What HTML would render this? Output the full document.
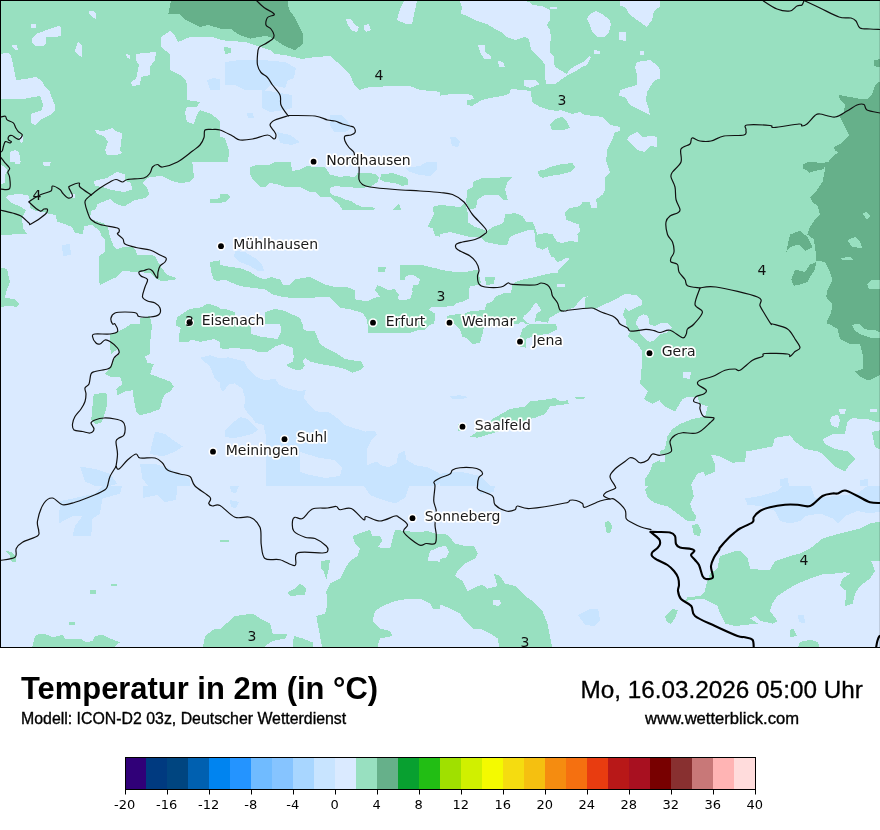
<!DOCTYPE html>
<html><head><meta charset="utf-8">
<style>
html,body{margin:0;padding:0;background:#fff;}
body{width:880px;height:830px;overflow:hidden;position:relative;font-family:"Liberation Sans",Arial,sans-serif;}
#map{position:absolute;left:0;top:0;}
.t{position:absolute;white-space:nowrap;color:#000;line-height:1;}
#title{left:21px;top:671.7px;font-size:32px;font-weight:bold;transform:scaleX(0.966);transform-origin:0 0;}
#sub{left:21px;top:711.4px;font-size:16px;-webkit-text-stroke:0.35px #000;transform:scaleX(0.992);transform-origin:0 0;}
#date{left:580.5px;top:677.8px;font-size:24.3px;-webkit-text-stroke:0.3px #000;}
#url{left:645px;top:711.2px;font-size:16px;-webkit-text-stroke:0.35px #000;transform:scaleX(1.037);transform-origin:0 0;}
#cb{position:absolute;left:0;top:750px;}
</style></head><body>
<svg id="map" width="880" height="648" viewBox="0 0 880 648" shape-rendering="crispEdges">
<defs>
<clipPath id="t00"><rect x="0" y="0" width="220" height="162"/></clipPath>
<clipPath id="t10"><rect x="220" y="0" width="220" height="162"/></clipPath>
<clipPath id="t20"><rect x="440" y="0" width="220" height="162"/></clipPath>
<clipPath id="t30"><rect x="660" y="0" width="220" height="162"/></clipPath>
<clipPath id="t01"><rect x="0" y="162" width="220" height="162"/></clipPath>
<clipPath id="t11"><rect x="220" y="162" width="220" height="162"/></clipPath>
<clipPath id="t21"><rect x="440" y="162" width="220" height="162"/></clipPath>
<clipPath id="t31"><rect x="660" y="162" width="220" height="162"/></clipPath>
<clipPath id="t02"><rect x="0" y="324" width="220" height="162"/></clipPath>
<clipPath id="t12"><rect x="220" y="324" width="220" height="162"/></clipPath>
<clipPath id="t22"><rect x="440" y="324" width="220" height="162"/></clipPath>
<clipPath id="t32"><rect x="660" y="324" width="220" height="162"/></clipPath>
<clipPath id="t03"><rect x="0" y="486" width="220" height="162"/></clipPath>
<clipPath id="t13"><rect x="220" y="486" width="220" height="162"/></clipPath>
<clipPath id="t23"><rect x="440" y="486" width="220" height="162"/></clipPath>
<clipPath id="t33"><rect x="660" y="486" width="220" height="162"/></clipPath>
</defs>
<rect width="880" height="648" fill="#daeaff"/>
<g clip-path="url(#t00)"><rect x="0" y="0" width="220" height="162" fill="#98e0c0"/>
<polygon points="171,0 168.3,14.5 179,13.5 184.7,19.3 200.2,27 208,25.1 225,29.5 225,0" fill="#66b08a"/>
<polygon points="31,24 36,24 36,28 31,28" fill="#daeaff"/>
<polygon points="32,38 36,34 44,31 52,28 59,26 61,28 61,36 55,37 46,37 46,44 43,46 36,46 32,43" fill="#daeaff"/>
<polygon points="89,11 94,11 96,14 96,19 92,17 89,14" fill="#daeaff"/>
<polygon points="12,45 17,45 18,50 15,50 12,47" fill="#daeaff"/>
<polygon points="78,41 82,46 82,57 78,55 75,51" fill="#daeaff"/>
<polygon points="-2,54 8,53 11,56 13,64 16,80 25,79 36,77 41,80 46,88 50,92 52,98 55,105 55,110 50,115 46,117 40,120 35,125 31,123 31,114 36,112 42,110 43,104 40,96 33,97 24,99 -2,99" fill="#daeaff"/>
<polygon points="136,54 143,53 156,52 155,60 150,67 150,75 141,77 140,85 132,86 131,82 136,79 139,65 136,60" fill="#daeaff"/>
<polygon points="126,54 130,55 130,59 127,58" fill="#daeaff"/>
<polygon points="161,37 170,31 175,36 178,42 190,37 212,37 222,40 222,124 219,120 211,114 200,110 197,115 194,124 187,122 185,112 187,107 197,107 200,102 187,100 187,85 186,80 180,75 170,70 170,54 161,47" fill="#daeaff"/>
<polygon points="207,80 214,78 222,80 222,90 210,90" fill="#c8e4ff"/>
<polygon points="95,130 103,131 110,129 112,127 115,131 122,133 121,145 120,150 122,153 117,155 107,155 105,150 108,142 104,136 97,134" fill="#daeaff"/>
<polygon points="10,152 15,150 19,152 21,164 10,164" fill="#daeaff"/>
<polygon points="19,137 23,135 23.5,141 21,143" fill="#daeaff"/>
</g>
<g clip-path="url(#t10)"><rect x="220" y="0" width="220" height="162" fill="#daeaff"/>
<polygon points="218,-2 442,-2 442,92 420,90 410,86 395,86 370,87 359,90 355,86 350,75 345,70 337,62 330,56 315,57 302,59 285,55 275,54 270,50 257,46 245,42 218,40" fill="#98e0c0"/>
<polygon points="218,-2 287,-2 289,9.7 294.8,17.4 302.5,32.8 302.5,44.4 294.8,50.2 285.1,46.3 273.6,38.6 265.8,35.7 250.4,38.6 238.8,34.7 231,29 218,28.5" fill="#66b08a"/>
<polygon points="404,1 417,1 412,24 406,24 397,20 400,9" fill="#daeaff"/>
<polygon points="346,19 351,19 355,25 359,27 357,32 352,31 348,25" fill="#daeaff"/>
<polygon points="364,25 369,24 371,30 366,32 364,30" fill="#daeaff"/>
<polygon points="224,47 231,48 231,53 225,54" fill="#98e0c0"/>
<polygon points="218,136 225,138 229,150 228,164 218,164" fill="#98e0c0"/>
<polygon points="225,62 240,60 262,60 285,62 296,68 294,78 288,80 285,88 270,85 265,90 245,90 235,85 225,85" fill="#c8e4ff"/>
<polygon points="262,90 275,92 292,95 292,108 285,110 270,112 262,108" fill="#c8e4ff"/>
<polygon points="330,115 342,115 348,122 352,128 345,132 334,132 330,125" fill="#c8e4ff"/>
<polygon points="277,132 290,135 300,142 292,145 280,143" fill="#c8e4ff"/>
<polygon points="247,113 253,113 254,118 248,118" fill="#c8e4ff"/>
</g>
<g clip-path="url(#t20)"><rect x="440" y="0" width="220" height="162" fill="#98e0c0"/>
<polygon points="438,96 452,94 465,94 472,95 474,99 467,100 467,105 472,106 482,100 495,97 502,96 509,94 511,89 522,90 531,91 532,102 540,107 550,110 557,111 560,110 572,114 580,112 585,115 595,116 602,117 610,125 620,127 620,131 615,132 612,140 607,150 606,164 438,164" fill="#daeaff"/>
<polygon points="550,125 555,119 562,117 567,122 570,128 563,130 552,130" fill="#98e0c0"/>
<polygon points="450,137 456,137 460,142 458,147 452,146" fill="#c8e4ff"/>
<polygon points="459,-2 462,7 461,14 467,16 477,21 487,24 495,29 501,32 506,37 515,40 525,37 529,39 530,44 531,50 536,55 542,60 545,65 545,75 546,84 555,84 565,77 570,74 576,71 582,67 587,65 591,57 589,56 585,61 577,65 570,69 567,74 562,71 555,67 554,62 554,57 550,52 550,46 551,37 550,30 547,25 550,20 550,10 542,6 532,5 529,2 512,-2" fill="#daeaff"/>
<polygon points="594,50 600,51 600,54 594,54" fill="#daeaff"/>
<polygon points="524,80 535,80 540,84 530,88 524,86" fill="#daeaff"/>
<polygon points="478,45 485,45 485,52 491,56 491,59 484,59 480,52" fill="#daeaff"/>
<polygon points="498,61 503,62 505,67 499,67" fill="#daeaff"/>
<polygon points="620,1 662,1 662,5 654,11 652,20 647,27 640,22 630,15 625,7 620,6" fill="#daeaff"/>
<polygon points="590,14 596,11 602,14 609,19 611,24 609,32 605,37 597,37 592,32 590,25 587,19" fill="#daeaff"/>
<polygon points="619,32 626,32 626,41 619,40" fill="#daeaff"/>
<polygon points="550,7 557,7 557,9 550,9" fill="#daeaff"/>
<polygon points="640,51 644,51 644,55 640,55" fill="#daeaff"/>
<polygon points="637,62 650,60 657,65 662,72 662,78 655,80 652,84 647,92 646,100 649,110 650,115 640,110 630,105 625,97 619,96 620,90 630,87 637,85 637,75 635,67" fill="#daeaff"/>
<polygon points="629,136 637,132 642,137 652,136 657,137 657,147 650,146 645,152 637,150 632,145 627,140" fill="#daeaff"/>
</g>
<g clip-path="url(#t30)"><rect x="660" y="0" width="220" height="162" fill="#98e0c0"/>
<polygon points="803.3,164.1 806.1,163 816.4,162.4 824.9,163.5 824.3,169.2 817.5,170.3 809.5,172.6 807.3,170.9 803.3,168.6" fill="#66b08a"/>
<polygon points="874,60 882,59 882,68 874,66" fill="#66b08a"/>
<polygon points="882,80 875,85 872,95 867,99 860,99 850,97 839,95 840,100 845,105 844,112 840,117 845,127 849,135 845,140 840,144 834,147 835,151 839,152 832,157 827,164 882,164" fill="#66b08a"/>
</g>
<g clip-path="url(#t01)"><rect x="0" y="162" width="220" height="162" fill="#daeaff"/>
<polygon points="-2,160 192,160 194,177 190,182 180,183 172,181 162,176 150,177 145,180 142,183 147,187 149,194 146,198 135,200 130,203 122,206 115,203 110,199 105,201 97.5,204 96,209 91,211 90,219 99,222 105,224 108,228 110,237 114,247 117,249 124,247 132,247 136,250 137,255 150,255 155,256 157,260 161,267 167,275 176,278 175,280 161,281 155,278 150,273 137,272 122,271 117,277 110,280 100,285 99,280 99,256 105,252 105,240 101,235 100,231 92,225 84,226 83,234 75,233 72,227 62,223 57,222 56,215 50,214 43,212 36,211 30,208 30,201 29,196 27,195 18,194 9,195 6,197 8,200 12,203 19,206 26,210 22,218 23,228 27,234 -2,235" fill="#98e0c0"/>
<polygon points="-2,164 5,167 7.5,171 5,174.5 5,183 -2,185" fill="#daeaff"/>
<polygon points="15,160 21,160 20,164 15,164" fill="#daeaff"/>
<polygon points="42,160 51,160 50,166 44,166" fill="#daeaff"/>
<polygon points="117.5,200 131,200 129,203 126,205.6 121,205.6 118,203" fill="#98e0c0"/>
<polygon points="94,181 107,178 117,172 125,174.5 125,181 131,183 132,189.5 125,192 117,191 110,189.5 102,187 95,186" fill="#daeaff"/>
<polygon points="70,194 75,194 75,198 70,198" fill="#daeaff"/>
<polygon points="210,199.5 222,198 222,203 210,203" fill="#98e0c0"/>
<polygon points="-2,267 7,269 10,282 6,292 5,298 15,299 19,304 17,307 10,306 -2,307" fill="#98e0c0"/>
<polygon points="210,262 222,260 222,282 214,280 211,272" fill="#98e0c0"/>
<polygon points="176.4,320 177.3,317.3 182.7,313.6 189.1,309.1 201.8,307.3 206.4,304.1 210.9,304.5 218.2,306.8 223.6,310 223.6,326 176.4,326" fill="#98e0c0"/>
<polygon points="140,318 150,316 152,326 140,326" fill="#98e0c0"/>
<polygon points="62,245 70,244 71,255 63,256" fill="#c8e4ff"/>
</g>
<g clip-path="url(#t11)"><rect x="220" y="162" width="220" height="162" fill="#daeaff"/>
<polygon points="250,167 257.5,164.5 270,164.5 280,160 290,160 292.5,171 300,169.5 307.5,166 315,167 325,167 330,174.5 340,177 345,176 355,177 357.5,173 362.5,173 370,173 376,174.5 379,177 377.5,182 370,187 360,188 345,187 335,186 330,188 330,193 335,196 340,197 345,199.5 351,201 356,204.5 362.5,207 370,207 375,208 374,210 360,210 355,209.5 350,210 342.5,209.5 340,206 336,202 332.5,199.5 330,197 325,197 320,197 315,192 310,192 305,189.5 300,187 292.5,187 285,187 277.5,184.5 270,183 265,187 260,187 257.5,184.5 252.5,179.5 250,174.5" fill="#98e0c0"/>
<polygon points="381,174.5 392.5,173 405,177 407.5,179.5 407.5,184.5 402.5,186 395,183 385,182 380,179.5" fill="#98e0c0"/>
<polygon points="392.5,209.5 396,206 399,203 401,209.5" fill="#98e0c0"/>
<polygon points="218,194 227,194 230,197 226,202 218,203" fill="#98e0c0"/>
<polygon points="432.5,207 442,204.5 442,237 435,236 432.5,228 427.5,227 430,222 434,214.5" fill="#98e0c0"/>
<polygon points="218,264.5 230,267 240,268 250,272 257.5,277 265,279.5 271,277 280,279.5 282.5,284.5 290,284.5 295,279.5 302.5,278 310,277 315,279.5 325,284.5 335,287 348,287.4 354.8,290.2 355.3,299.3 367.3,301.6 374,298.2 379.8,296.5 375.2,290.2 377.5,285.1 388.9,290.2 394.5,289.1 399.1,294.8 400.2,299.9 404.8,300.5 410.5,298.2 412.7,291.4 410,282 400,279.5 400,264.5 410,264.5 420,264.5 430,267 442,269.5 442,306.5 430.9,307.3 428.6,309.5 435.5,314.1 434.5,320.9 434,326 367.5,326 367.3,319.8 362.7,313 349.1,309 340,307.8 330,297 320,297 310,298 302.5,298 292.5,298 282.5,297 272.5,294.5 265,289.5 255,288 245,287 240,286 232.5,283 225,279.5 218,279.5" fill="#98e0c0"/>
<polygon points="406,276 412.5,274.5 420,279.5 418,285 413.6,285 411.8,290.5 410.9,297.7 400,300.5 398,298 400,290 403,284" fill="#daeaff"/>
<polygon points="377.5,267 386,267 385,272 378,272" fill="#98e0c0"/>
<polygon points="218,309.5 225,309 235,312 237,326 218,326" fill="#98e0c0"/>
<polygon points="265,312 275,309 285,311 300,318 303,326 265,326" fill="#98e0c0"/>
<polygon points="235,251 245,252 255,258 262,264 264,271 258,271 250,266 240,262 234,257" fill="#c8e4ff"/>
<polygon points="405,168 420,166 430,160 437,160 437,170 430,176 420,175 410,172" fill="#c8e4ff"/>
</g>
<g clip-path="url(#t21)"><rect x="440" y="162" width="220" height="162" fill="#98e0c0"/>
<polygon points="438,160 606,160 610,172 605,177 605,189.5 602.5,194.5 596,199.5 597.5,208 591,208 590,202 582.5,202 580,206 570,208 565,212 566,219.5 574,223 579,224.5 580,231 577.5,234.5 577.5,242 570,241 562.5,243 557.5,242 552.5,234.5 545,233 537.5,234.5 535,227 532.5,222 526,222 522.5,216 515,213 505,214.5 504,222 500,224.5 492.5,227 487.5,231 481,237 485,242 497.5,244.5 507.5,244.5 510,237 515,234.5 522.5,232 530,229.5 534,229.5 535,237 536,247 542.5,249.5 547.5,247 550,254.5 555,262 562.5,261 569,258 565,262 560,267 557.5,272 545,274.5 535,277 522.5,279.5 516,282 512.5,285 511,292.5 504,293 495,297 494,300 490,302.5 486,304 485,310 472.5,311 470,307.5 469,301 469,291 470,286 479,285 481,282.5 479,275 477.5,269.5 465,272 455,272 438,269.5" fill="#daeaff"/>
<polygon points="438,204.5 450,206 460,207 465,203 467.5,212 467.5,222 475,227 482.5,229.5 486,231 480,237 470,237 460,234.5 450,232 438,234.5" fill="#98e0c0"/>
<polygon points="472.5,182 482.5,178 500,177.5 512.5,177 507.5,182 505,189.5 507.5,199.5 502.5,199.5 497.5,194.5 485,194.5 477.5,199.5 476,208 470,209.5 466,202 467.5,189.5 472.5,187" fill="#98e0c0"/>
<polygon points="537.5,171 545,169.5 550,167 560,164.5 572.5,163 575,167 570,172 560,174.5 550,176 542.5,178 539,176" fill="#98e0c0"/>
<polygon points="485,277.5 495,277 494,284 486,285" fill="#98e0c0"/>
<polygon points="438,306.5 443.6,306.8 453.6,305.9 456.4,303.2 463.6,301.4 469,298.6 471,301 472,308 474.5,309.5 470,311.4 463.6,314.1 459,314.1 450.9,315 447.3,315.9 447,322 448,328 450.9,327.7 460.9,327.7 461.8,335.9 462,342 438,342" fill="#daeaff"/>
<polygon points="480,344 484,335 484,327 490,326.5 515,326 520,322.5 524,322 526,325 530,324 537.5,321 547.5,322.5 555,326 557.5,329 550,332.5 540,336 530,342 480,342" fill="#daeaff"/>
<polygon points="523.75,316 530,311 534,304 536,302.5 540,307.5 541,311 536,314 535,322.5 530,324 525,321 523,319" fill="#daeaff"/>
<polygon points="549,318 559,312.5 564,311 575,307 580,300 584,297 589,296 585.5,298 585,307.5 595,309 602.5,305 607.5,303 616,299 625,294 636,295 642.5,301 642,305 632.5,309 629,311 625,308 623,315 626,320 626,326 625,342 547,342 547,330" fill="#daeaff"/>
<polygon points="635.4,322.9 638.6,316.6 643.3,314.2 648.1,315.8 649.7,324.5 654.5,326.1 660.8,322.9 667.2,322.9 672,327.7 667.2,332.5 660.8,334.1 654.5,340.4 649.7,342 644.9,338.8 640.2,334.1 638.6,327.7" fill="#daeaff"/>
<polygon points="550,256 554,257.5 557.5,262.5 562.5,260 566,257.5 570,259 562.5,266 559,269 557.5,273 548,273" fill="#daeaff"/>
<polygon points="557,284 565.5,284 565,287 557,287" fill="#daeaff"/>
</g>
<g clip-path="url(#t31)"><rect x="660" y="162" width="220" height="162" fill="#98e0c0"/>
<polygon points="803.3,164.1 806.1,163 816.4,162.4 824.9,163.5 824.3,169.2 817.5,170.3 809.5,172.6 807.3,170.9 803.3,168.6" fill="#66b08a"/>
<polygon points="803.75,165.75 810,160 825,160 825,169.5 822.5,182 817.5,189.5 810,197 812.5,202 817.5,205.75 820,214.5 815,219.5 810,227 807.5,234.5 813.75,239.5 815,247 816.25,257 816.25,260.75 825,262 830,272 832.5,279.5 827.5,289.5 826.25,297 832.5,304.5 831.25,312 827.5,319.5 826.25,326 882,326 882,160 825,160" fill="#66b08a"/>
<polygon points="790,234.5 800,230.75 807.5,237 812.5,247 805,250.75 798.75,244.5 790,247 786.25,252" fill="#66b08a"/>
<polygon points="795,269.5 805,272 810,264.5 816.25,262 815,269.5 810,277 807.5,282 800,284.5 793.75,285.75 791.25,279.5" fill="#66b08a"/>
<polygon points="862.5,214 866,212 870,216 867,219.5" fill="#98e0c0"/>
<polygon points="847.5,240 855,237 860,242 862.5,248 852,247" fill="#98e0c0"/>
<polygon points="840,258 850,257 852.5,259.5 842,260" fill="#98e0c0"/>
<polygon points="867,284 872,280 882,280 882,289 869,289" fill="#98e0c0"/>
<polygon points="635.4,322.9 638.6,316.6 643.3,314.2 648.1,315.8 649.7,324.5 654.5,326.1 660.8,322.9 667.2,322.9 672,327.7 667.2,332.5 660.8,334.1 654.5,340.4 649.7,342 644.9,338.8 640.2,334.1 638.6,327.7" fill="#daeaff"/>
</g>
<g clip-path="url(#t02)"><rect x="0" y="324" width="220" height="162" fill="#daeaff"/>
<polygon points="110,334 117.5,331.5 127.5,326.5 132.5,322 152.5,322 151,334 150,344 150,354 145,356.5 147.5,362.75 153.75,364 150,374 160,377.75 170,381.5 173.75,386.5 170,391.5 165,394 162.5,399 160,409 150,412.75 140,415.25 136.25,411.5 133.75,399 132.5,390.25 125,391.5 117.5,395.25 116.25,389 122.5,384 120,376.5 110,376.5 105,374 110,367.75 112.5,361.5 115,357.75 120,354 117.5,349 111.25,354 110,346.5" fill="#98e0c0"/>
<polygon points="93.75,394 106.25,392.75 107.5,399 106.25,409 103.75,416.5 101.25,422.75 95,424 91.25,420.25 92.5,406.5" fill="#98e0c0"/>
<polygon points="176.4,322 223,322 223,344 214.5,339 200,341.8 191.8,339.5 187.3,342.3 179.1,341.8 179.5,332.7 180.9,328.2 176.4,325.5" fill="#98e0c0"/>
<polygon points="200,357.75 210,355.25 222,359 222,384 215,379 210,366.5" fill="#c8e4ff"/>
<polygon points="155,431.5 165,434 175,441.5 182.5,446.5 175,451.5 162.5,456.5 150,454 152.5,441.5" fill="#c8e4ff"/>
<polygon points="80,466.5 95,469 110,474 117.5,484 100,488 85,481.5" fill="#c8e4ff"/>
<polygon points="140,464 155,464 170,469 190,479 190,488 150,488 142.5,479" fill="#c8e4ff"/>
</g>
<g clip-path="url(#t12)"><rect x="220" y="324" width="220" height="162" fill="#daeaff"/>
<polygon points="198.8,358.3 207.5,356.4 213.3,355.4 221,358.3 228.7,357.3 236.4,359.3 244.1,361.2 248,368.9 255.7,376.6 265.3,380.5 274.9,378.6 278.8,384.3 286.5,388.2 294.2,390.1 300,391 305.8,390.1 303.9,397.8 309.6,405.5 315.4,411.3 328.9,412.3 338.6,419 344.3,424.8 355.9,428.7 365.5,431.6 374.2,430.6 377.1,434.5 371.3,440.2 367.5,448 366.5,465.3 377.1,461.4 381,465.3 388.7,467.2 396.4,463.4 398.3,453.7 405.1,450.8 406,459.5 415.7,465.3 427.2,467.2 438.8,473 442.7,478.8 440.7,482.7 434.9,486.5 431,490 266,490 266,436 263.4,424.8 255.7,422.9 251.8,417.1 248,413.3 244.1,407.5 245.1,397.8 242.2,388.2 234.5,383.4 228.7,384.3 222.9,392 219,386.3 217.1,378.6 213.3,370.8 205.5,363.1 199.8,361.2" fill="#c8e4ff"/>
<polygon points="224.8,430.6 232.5,422.9 240.2,417.1 248,419 253.7,424.8 258,430 251.8,434 244.1,436 232.5,438.3 224.8,436.4" fill="#c8e4ff"/>
<polygon points="300,452 310,455 320,458 335,460 342,468 340,476 325,478 310,475 300,472" fill="#daeaff"/>
<polygon points="218,326.5 235,325.25 250,322 251.25,334 260,336.5 277.5,339 281.25,331.5 280,322 302.5,322 303.75,330.25 315,331.5 320,344 327.5,349 337.5,354 345,359 352.5,360.25 361.25,361.5 363.75,366.5 360,370.25 352.5,372.75 345,369 335,366.5 320,364 310,361.5 305,357.75 302.5,361.5 305,365.25 302.5,369 297.5,370.25 290,367.75 286.25,365.25 292.5,361.5 293.75,356.5 292.5,347.75 282.5,344 275,346.5 267.5,351.5 257.5,351.5 250,349 242.5,349 235,347.75 225,349 218,347.75" fill="#98e0c0"/>
<polygon points="367.5,322 435,322 434.3,320.9 430,325 424.1,330 418.4,330 408.2,333.4 396.8,333.4 387.7,332.8 374,333.4 367.8,333.4" fill="#98e0c0"/>
</g>
<g clip-path="url(#t22)"><rect x="440" y="324" width="220" height="162" fill="#daeaff"/>
<polygon points="452.5,322 485,322 482.5,334 480,342.75 472.5,344 467.5,339 462.5,336.5 460,329" fill="#98e0c0"/>
<polygon points="522.5,329 532.5,322 555,322 557.5,329 547.5,334 535,335.25 526.25,339 526.25,347.75 520,346.5 520,336.5" fill="#98e0c0"/>
<polygon points="625,322 630,331.5 627.5,336.5 637.5,344 642.5,351.5 641.25,374 640,384 647.5,391.5 643.75,399 652.5,404 662,399 662,322" fill="#98e0c0"/>
<polygon points="470,436.5 477.5,431.5 492.5,419 510,409 525,406.5 530,401.5 550,399 555,397.75 560,401.5 567.5,400.25 568.75,404 557.5,405.25 550,406.5 545,414 535,417.75 530,419 520,424 507.5,429 490,434 477.5,437.75" fill="#98e0c0"/>
<polygon points="457.5,424 463,422.75 466,427 463,431.5 458,431" fill="#98e0c0"/>
<polygon points="575,397 585,396.5 584,399 576,399.5" fill="#98e0c0"/>
<polygon points="645,479 650,471.5 652.5,464 662,459 662,488 645,488" fill="#98e0c0"/>
<polygon points="450,396 460,395.25 468.75,397 462,399 452,399" fill="#c8e4ff"/>
<polygon points="438,474 460,471.5 480,476 490,486 490,488 438,488" fill="#c8e4ff"/>
<polygon points="635.4,322.9 638.6,316.6 643.3,314.2 648.1,315.8 649.7,324.5 654.5,326.1 660.8,322.9 667.2,322.9 672,327.7 667.2,332.5 660.8,334.1 654.5,340.4 649.7,342 644.9,338.8 640.2,334.1 638.6,327.7" fill="#daeaff"/>
</g>
<g clip-path="url(#t32)"><rect x="660" y="324" width="220" height="162" fill="#98e0c0"/>
<polygon points="826.25,322 837.5,329 840,339 850,344 860,344 862.5,354 862.5,369 855,371.5 860,376.5 867.5,380.25 872.5,379 882,374 882,322" fill="#66b08a"/>
<polygon points="852,325 858,323 863,328 868,330 875,330 882,333 882,338 871,338 862,335 855,331" fill="#98e0c0"/>
<polygon points="658,399 665,406.5 675,411.5 682.5,399 687.5,396.5 697.5,396.5 700,404 707.5,406.5 705,416.5 692.5,419 680,424 672.5,429 667.5,436.5 665,449 658,451.5" fill="#daeaff"/>
<polygon points="690,488 692,483 697.5,473.7 703.3,471.8 705.3,475.6 714.9,471.8 714.9,464 711,454.4 720,456.5 732.5,462.75 745,461.5 746.25,451.5 760,449 772.5,446.5 775,437.75 790,435.25 795,441.5 805,449 817.5,451.5 822.5,454 835,466.5 845,471.5 850,464 855,459 847.5,451.5 835,449 825,444 822.5,439 827.5,436.5 832.5,434 845,434 847.5,421.5 852.5,417.75 860,419 867.5,419 875,421.5 882,422.75 882,488" fill="#daeaff"/>
<polygon points="872,432 882,430 882,450 875,447" fill="#98e0c0"/>
<polygon points="832,416 838,415 840,420 838,428 832,426 830,420" fill="#daeaff"/>
<polygon points="839,409 846,409 845,414 840,414" fill="#daeaff"/>
<polygon points="870,409 877.5,409 877,411.5 870,411.5" fill="#daeaff"/>
<polygon points="658,454 665,454 665,461.5 658,461.5" fill="#daeaff"/>
<polygon points="682.5,372 691,371.5 690,379 683,378" fill="#daeaff"/>
<polygon points="780,479 788,478 789,488 780,488" fill="#c8e4ff"/>
<polygon points="860,480 867.5,479 868,488 860,488" fill="#c8e4ff"/>
<polygon points="635.4,322.9 638.6,316.6 643.3,314.2 648.1,315.8 649.7,324.5 654.5,326.1 660.8,322.9 667.2,322.9 672,327.7 667.2,332.5 660.8,334.1 654.5,340.4 649.7,342 644.9,338.8 640.2,334.1 638.6,327.7" fill="#daeaff"/>
</g>
<g clip-path="url(#t03)"><rect x="0" y="486" width="220" height="162" fill="#daeaff"/>
<polygon points="32.5,646 35,636 40,633.5 47.5,634.75 52.5,637.25 62.5,634.75 65,638.5 72.5,638.5 80,638.5 86.25,642.25 92.5,641 95,636 102.5,634.75 110,638.5 120,642.25 115,646 115,650 32,650" fill="#98e0c0"/>
<polygon points="205,636 215,628.5 222,628.5 222,650 202.5,650" fill="#98e0c0"/>
<polygon points="90,590 96,589.75 96.25,593.5 90,594" fill="#98e0c0"/>
<polygon points="111,584 117.5,583.5 117,586 111,586" fill="#98e0c0"/>
<polygon points="69,622 75,622 75,625 69,625" fill="#98e0c0"/>
<polygon points="6,551 12,552 16,557 16,562 12,562 10,556" fill="#98e0c0"/>
<polygon points="60,501 72.5,498.5 95,493.5 105,484 122.5,484 120,493.5 102.5,498.5 100,513.5 92.5,518.5 91.25,536 72.5,536 75,526 82.5,516 72.5,516 58.75,523.5" fill="#c8e4ff"/>
<polygon points="142.5,484 177.5,484 176,500 165,502 157,495 143,498" fill="#c8e4ff"/>
</g>
<g clip-path="url(#t13)"><rect x="220" y="486" width="220" height="162" fill="#daeaff"/>
<polygon points="352.5,536 370,529.75 372.5,536 380,536 382.5,541 377.5,547.25 390,548.5 395,529.75 405,531 417.5,532.25 427.5,531 435,533.5 442,533.5 442,546 430,551 427.5,561 437.5,561 442,563.5 442,608.5 432.5,608.5 430,603.5 420,598.5 410,598.5 395,601 382.5,606 375,611 372.5,621 380,628.5 390,631 392.5,636 380,638.5 377.5,646 377.5,650 322.5,650 320,636 316.25,616 325,613.5 327.5,603.5 326.25,591 330,583.5 340,578.5 345,568.5 350,561 357.5,556 360,548.5 355,543.5" fill="#98e0c0"/>
<polygon points="218,631 235,616 252.5,613.5 260,618.5 270,623.5 272.5,633.5 287.5,633.5 285,638.5 272.5,641 265,646 265,650 218,650" fill="#98e0c0"/>
<polygon points="293.75,636 302.5,638.5 312.5,642.25 312.5,650 292.5,650" fill="#98e0c0"/>
<polygon points="287.5,592.25 295,588.5 300,583.5 306.25,588.5 305,594.75 290,596" fill="#98e0c0"/>
<polygon points="321.25,561 330,559.75 328.75,568.5 326.25,579.75 323.75,571 321.25,568.5" fill="#98e0c0"/>
<polygon points="218,539.75 228.75,540 228.75,542.25 218,542.25" fill="#98e0c0"/>
<polygon points="362.5,484 410,484 405,498 395,503.5 380,499 370,495" fill="#c8e4ff"/>
<polygon points="230,500 238.75,502 236,508.5 231,507" fill="#c8e4ff"/>
<polygon points="230,486 238.75,486 236,493.5 231,492" fill="#c8e4ff"/>
</g>
<g clip-path="url(#t23)"><rect x="440" y="486" width="220" height="162" fill="#daeaff"/>
<polygon points="438,533.5 447.5,534.75 455,543.5 465,546 473.75,546 477.5,553.5 475,558.5 465,563.5 457.5,571 455,576 462.5,581 467.5,591 477.5,586 482.5,584.75 487.5,588.5 497.5,586 493.75,573.5 500,576 505,583.5 515,586 525,596 532.5,601 542.5,611 547.5,623.5 550,636 552.5,650 500,650 497.5,638.5 490,633.5 480,628.5 472.5,628.5 465,621 460,613.5 450,608.5 438,603.5" fill="#98e0c0"/>
<polygon points="438,547 446,546 449,552 446,558 438,559" fill="#daeaff"/>
<polygon points="492.5,600 499,599.75 501.25,603 498,606 493,605" fill="#daeaff"/>
<polygon points="605,522 609,521 612.5,526 610,533.5 606,532" fill="#98e0c0"/>
<polygon points="645,490 650,484 662,484 662,505 655,503 648,498" fill="#98e0c0"/>
<polygon points="578,615 590,609 598,608.5 600,620 595,626 585,625" fill="#c8e4ff"/>
<polygon points="477.5,484 495,484 494,492 480,494" fill="#c8e4ff"/>
</g>
<g clip-path="url(#t33)"><rect x="660" y="486" width="220" height="162" fill="#daeaff"/>
<polygon points="658,484 691.25,484 693.75,496 690,503.5 692.5,511 696.25,516 695,521 687.5,521 677.5,513.5 667.5,506 658,504.75" fill="#98e0c0"/>
<polygon points="692,525 698,524 701,530 700,536 694,535" fill="#98e0c0"/>
<polygon points="706.25,584.75 710,573.5 717.5,568.5 720,556 735,551 740,551 747.5,558.5 750,568.5 760,569.75 770,569.75 775,561 790,556 800,553.5 810,548.5 822.5,538.5 835,534.75 850,531 860,528.5 870,523.5 882,521 882,561 871.25,561 875,571 870,578.5 860,586 855,593.5 852.5,603.5 845,606 846.25,591 840,586 842.5,578.5 850,573.5 845,572.25 835,573.5 825,573.5 810,578.5 797.5,583.5 785,591 777.5,596 772.5,603.5 770,611 777.5,621 772.5,623.5 760,621 755,616 750,618.5 757.5,623.5 735,626 725,623.5 720,613.5 717.5,606 707.5,601 702.5,598.5 692.5,599.75 685,601 687.5,597.25 700,596 705,591" fill="#98e0c0"/>
<polygon points="665,616 672,609 678,610 675,618 671,624 667,622" fill="#98e0c0"/>
<polygon points="790,630 793,628.5 797,636 790,637" fill="#98e0c0"/>
<polygon points="800,642 810,639.75 818,642 820,650 797,650" fill="#98e0c0"/>
<polygon points="745,498.5 760,496 777.5,491 785,484 810,484 815,498.5 835,496 857.5,493.5 870,484 882,484 882,511 870,513.5 857.5,511 845,516 837.5,523.5 832.5,518.5 820,513.5 805,516 800,521 790,523.5 780,521 775,511 760,506 747.5,504.75" fill="#c8e4ff"/>
<polygon points="798,615 804,614.75 805,623.5 799,622" fill="#c8e4ff"/>
</g>
<g fill="none" stroke="#111" stroke-width="1.2" stroke-linejoin="round" stroke-linecap="round" shape-rendering="auto">
<path d="M0,210 C2.08,210.50 9.00,212.00 12.5,213 C16.00,214.00 18.25,214.33 21,216 C23.75,217.67 27.33,221.67 29,223 C30.67,224.33 28.33,225.42 31,224 C33.67,222.58 42.25,216.92 45,214.5 C47.75,212.08 47.67,210.42 47.5,209.5 C47.33,208.58 45.25,208.75 44,209 C42.75,209.25 42.33,212.00 40,211 C37.67,210.00 31.67,204.67 30,203 C28.33,201.33 28.17,202.42 30,201 C31.83,199.58 37.50,196.17 41,194.5 C44.50,192.83 49.08,192.42 51,191 C52.92,189.58 51.00,186.25 52.5,186 C54.00,185.75 58.33,188.33 60,189.5 C61.67,190.67 61.17,191.58 62.5,193 C63.83,194.42 66.33,197.50 68,198 C69.67,198.50 72.33,197.67 72.5,196 C72.67,194.33 69.42,189.67 69,188 C68.58,186.33 68.33,186.83 70,186 C71.67,185.17 77.33,182.83 79,183 C80.67,183.17 78.00,185.00 80,187 C82.00,189.00 89.17,193.67 91,195"/>
<path d="M91,195 C92.50,193.83 96.83,190.17 100,188 C103.17,185.83 107.33,183.42 110,182 C112.67,180.58 113.92,179.50 116,179.5 C118.08,179.50 120.58,182.00 122.5,182 C124.42,182.00 123.92,180.17 127.5,179.5 C131.08,178.83 140.25,179.08 144,178 C147.75,176.92 148.58,174.83 150,173 C151.42,171.17 151.25,168.42 152.5,167 C153.75,165.58 155.83,164.50 157.5,164.5 C159.17,164.50 159.17,167.42 162.5,167 C165.83,166.58 172.50,164.67 177.5,162 C182.50,159.33 188.75,153.83 192.5,151 C196.25,148.17 198.08,147.25 200,145 C201.92,142.75 203.17,140.00 204,137.5 C204.83,135.00 203.58,131.33 205,130 C206.42,128.67 210.00,129.50 212.5,129.5 C215.00,129.50 216.67,128.92 220,130 C223.33,131.08 229.17,134.33 232.5,136 C235.83,137.67 236.67,139.50 240,140 C243.33,140.50 247.92,139.83 252.5,139 C257.08,138.17 263.92,135.00 267.5,135 C271.08,135.00 272.58,139.00 274,139 C275.42,139.00 276.00,136.33 276,135 C276.00,133.67 275.00,132.67 274,131 C273.00,129.33 269.83,126.83 270,125 C270.17,123.17 271.83,121.58 275,120 C278.17,118.42 286.67,116.25 289,115.5"/>
<path d="M91,195 C90.17,195.75 87.00,198.17 86,199.5 C85.00,200.83 84.75,200.92 85,203 C85.25,205.08 86.50,209.25 87.5,212 C88.50,214.75 88.92,217.42 91,219.5 C93.08,221.58 95.58,223.08 100,224.5 C104.42,225.92 114.33,226.75 117.5,228 C120.67,229.25 119.00,231.00 119,232 C119.00,233.00 116.83,232.83 117.5,234 C118.17,235.17 121.75,237.33 123,239 C124.25,240.67 122.83,242.58 125,244 C127.17,245.42 131.83,246.50 136,247.5 C140.17,248.50 146.00,248.75 150,250 C154.00,251.25 157.33,253.67 160,255 C162.67,256.33 165.17,256.83 166,258 C166.83,259.17 166.00,260.67 165,262 C164.00,263.33 161.17,264.33 160,266 C158.83,267.67 158.42,270.00 158,272 C157.58,274.00 158.00,277.50 157.5,278 C157.00,278.50 155.83,276.17 155,275 C154.17,273.83 153.50,272.00 152.5,271 C151.50,270.00 150.42,269.08 149,269 C147.58,268.92 145.67,270.00 144,270.5 C142.33,271.00 139.50,271.08 139,272 C138.50,272.92 139.58,274.75 141,276 C142.42,277.25 146.83,277.67 147.5,279.5 C148.17,281.33 145.83,284.08 145,287 C144.17,289.92 142.08,294.67 142.5,297 C142.92,299.33 145.42,300.00 147.5,301 C149.58,302.00 152.92,301.83 155,303 C157.08,304.17 159.33,306.08 160,308 C160.67,309.92 160.67,313.00 159,314.5 C157.33,316.00 153.33,316.67 150,317 C146.67,317.33 141.33,317.17 139,316.5 C136.67,315.83 138.33,313.75 136,313 C133.67,312.25 128.50,312.00 125,312 C121.50,312.00 117.33,312.00 115,313 C112.67,314.00 111.42,316.17 111,318 C110.58,319.83 111.83,323.00 112.5,324 C113.17,325.00 114.17,322.75 115,324 C115.83,325.25 118.33,329.83 117.5,331.5 C116.67,333.17 113.75,333.58 110,334 C106.25,334.42 97.92,333.58 95,334 C92.08,334.42 92.33,335.00 92.5,336.5 C92.67,338.00 94.75,341.75 96,343 C97.25,344.25 98.50,344.50 100,344 C101.50,343.50 103.33,340.42 105,340 C106.67,339.58 107.92,340.17 110,341.5 C112.08,342.83 116.00,346.08 117.5,348 C119.00,349.92 119.58,351.33 119,353 C118.42,354.67 115.33,355.75 114,358 C112.67,360.25 112.08,364.67 111,366.5 C109.92,368.33 110.17,368.17 107.5,369 C104.83,369.83 97.75,370.67 95,371.5 C92.25,372.33 92.00,371.92 91,374 C90.00,376.08 90.00,381.67 89,384 C88.00,386.33 85.50,386.33 85,388 C84.50,389.67 86.00,391.75 86,394 C86.00,396.25 85.83,399.00 85,401.5 C84.17,404.00 82.67,406.50 81,409 C79.33,411.50 76.42,414.00 75,416.5 C73.58,419.00 72.67,421.75 72.5,424 C72.33,426.25 72.33,428.75 74,430 C75.67,431.25 79.83,431.00 82.5,431.5 C85.17,432.00 88.08,433.42 90,433 C91.92,432.58 93.83,430.67 94,429 C94.17,427.33 90.83,424.50 91,423 C91.17,421.50 92.83,420.83 95,420 C97.17,419.17 100.67,418.17 104,418 C107.33,417.83 111.92,418.42 115,419 C118.08,419.58 120.83,420.25 122.5,421.5 C124.17,422.75 124.75,424.25 125,426.5 C125.25,428.75 125.00,433.08 124,435 C123.00,436.92 120.33,436.92 119,438 C117.67,439.08 116.25,438.83 116,441.5 C115.75,444.17 117.50,449.83 117.5,454 C117.50,458.17 116.25,464.42 116,466.5"/>
<path d="M116,466.5 C115.00,468.17 111.42,473.25 110,476.5 C108.58,479.75 108.33,483.79 107.5,486 C106.67,488.21 107.08,488.29 105,489.75 C102.92,491.21 100.00,492.67 95,494.75 C90.00,496.83 80.42,500.58 75,502.25 C69.58,503.92 66.25,505.46 62.5,504.75 C58.75,504.04 55.62,498.21 52.5,498 C49.38,497.79 46.25,499.67 43.75,503.5 C41.25,507.33 38.33,516.42 37.5,521 C36.67,525.58 38.75,528.50 38.75,531 C38.75,533.50 40.21,534.12 37.5,536 C34.79,537.88 26.04,540.17 22.5,542.25 C18.96,544.33 17.50,546.00 16.25,548.5 C15.00,551.00 17.71,555.25 15,557.25 C12.29,559.25 2.50,559.96 0,560.5"/>
<path d="M116,466.5 C116.50,466.92 117.08,470.08 119,469 C120.92,467.92 124.67,462.50 127.5,460 C130.33,457.50 133.92,454.33 136,454 C138.08,453.67 136.83,457.33 140,458 C143.17,458.67 151.25,457.17 155,458 C158.75,458.83 160.42,461.00 162.5,463 C164.58,465.00 164.58,468.17 167.5,470 C170.42,471.83 176.25,472.92 180,474 C183.75,475.08 187.50,474.50 190,476.5 C192.50,478.50 191.67,482.54 195,486 C198.33,489.46 207.71,494.33 210,497.25 C212.29,500.17 208.33,502.04 208.75,503.5 C209.17,504.96 210.62,505.67 212.5,506 C214.38,506.33 216.25,503.62 220,505.5 C223.75,507.38 230.00,515.29 235,517.25 C240.00,519.21 245.83,515.58 250,517.25 C254.17,518.92 258.12,522.67 260,527.25 C261.88,531.83 260.42,539.54 261.25,544.75 C262.08,549.96 261.88,556.00 265,558.5 C268.12,561.00 275.00,558.58 280,559.75 C285.00,560.92 292.08,566.62 295,565.5 C297.92,564.38 292.92,555.08 297.5,553 C302.08,550.92 317.50,553.25 322.5,553 C327.50,552.75 326.88,552.67 327.5,551.5 C328.12,550.33 328.33,548.17 326.25,546 C324.17,543.83 318.54,539.96 315,538.5 C311.46,537.04 308.54,538.50 305,537.25 C301.46,536.00 295.83,533.71 293.75,531 C291.67,528.29 292.29,523.29 292.5,521 C292.71,518.71 293.33,517.67 295,517.25 C296.67,516.83 299.58,519.88 302.5,518.5 C305.42,517.12 308.33,510.75 312.5,509 C316.67,507.25 323.54,508.42 327.5,508 C331.46,507.58 334.17,506.21 336.25,506.5 C338.33,506.79 337.50,509.42 340,509.75 C342.50,510.08 347.29,506.83 351.25,508.5 C355.21,510.17 361.25,518.42 363.75,519.75 C366.25,521.08 363.54,516.29 366.25,516.5 C368.96,516.71 375.21,521.08 380,521 C384.79,520.92 391.88,516.62 395,516 C398.12,515.38 396.67,515.79 398.75,517.25 C400.83,518.71 406.67,522.25 407.5,524.75 C408.33,527.25 401.88,528.92 403.75,532.25 C405.62,535.58 415.00,542.88 418.75,544.75 C422.50,546.62 423.54,543.71 426.25,543.5 C428.96,543.29 433.33,544.96 435,543.5 C436.67,542.04 436.25,537.88 436.25,534.75 C436.25,531.62 435.00,528.71 435,524.75 C435.00,520.79 436.46,514.96 436.25,511 C436.04,507.04 433.96,505.17 433.75,501 C433.54,496.83 434.96,489.17 435,486 C435.04,482.83 433.17,483.33 434,482 C434.83,480.67 437.33,479.33 440,478 C442.67,476.67 447.92,475.33 450,474 C452.08,472.67 450.83,471.04 452.5,470 C454.17,468.96 456.67,468.12 460,467.75 C463.33,467.38 469.17,467.38 472.5,467.75 C475.83,468.12 478.33,468.96 480,470 C481.67,471.04 482.71,472.71 482.5,474 C482.29,475.29 479.58,475.75 478.75,477.75 C477.92,479.75 477.50,484.00 477.5,486 C477.50,488.00 476.25,488.08 478.75,489.75 C481.25,491.42 489.79,493.50 492.5,496 C495.21,498.50 492.71,502.25 495,504.75 C497.29,507.25 502.92,510.17 506.25,511 C509.58,511.83 513.12,510.58 515,509.75 C516.88,508.92 515.00,506.21 517.5,506 C520.00,505.79 522.08,509.00 530,508.5 C537.92,508.00 558.33,504.38 565,503 C571.67,501.62 568.12,500.67 570,500.25 C571.88,499.83 574.17,499.96 576.25,500.5 C578.33,501.04 581.04,502.38 582.5,503.5 C583.96,504.62 582.08,507.67 585,507.25 C587.92,506.83 595.83,502.38 600,501 C604.17,499.62 607.50,499.21 610,499 C612.50,498.79 612.50,497.96 615,499.75 C617.50,501.54 623.12,506.58 625,509.75 C626.88,512.92 625.00,516.54 626.25,518.75 C627.50,520.96 630.04,521.62 632.5,523 C634.96,524.38 637.92,525.92 641,527 C644.08,528.08 649.33,529.08 651,529.5"/>
<path d="M289,115.5 C288.75,115.42 288.83,116.75 287.5,115 C286.17,113.25 282.25,108.33 281,105 C279.75,101.67 281.42,98.33 280,95 C278.58,91.67 274.58,87.92 272.5,85 C270.42,82.08 269.42,79.58 267.5,77.5 C265.58,75.42 262.67,74.58 261,72.5 C259.33,70.42 258.08,67.92 257.5,65 C256.92,62.08 257.25,57.92 257.5,55 C257.75,52.08 257.75,49.33 259,47.5 C260.25,45.67 262.75,45.42 265,44 C267.25,42.58 271.00,40.50 272.5,39 C274.00,37.50 274.25,36.67 274,35 C273.75,33.33 272.33,30.67 271,29 C269.67,27.33 266.58,26.92 266,25 C265.42,23.08 266.17,19.17 267.5,17.5 C268.83,15.83 273.17,15.83 274,15 C274.83,14.17 274.17,13.75 272.5,12.5 C270.83,11.25 266.75,9.58 264,7.5 C261.25,5.42 257.33,1.25 256,0"/>
<path d="M289,115.5 C293.33,115.58 308.58,115.25 315,116 C321.42,116.75 324.17,119.17 327.5,120 C330.83,120.83 332.50,120.33 335,121 C337.50,121.67 340.00,123.17 342.5,124 C345.00,124.83 348.08,125.42 350,126 C351.92,126.58 353.17,126.42 354,127.5 C354.83,128.58 355.50,131.25 355,132.5 C354.50,133.75 352.67,134.42 351,135 C349.33,135.58 346.00,135.00 345,136 C344.00,137.00 344.33,139.08 345,141 C345.67,142.92 347.50,145.58 349,147.5 C350.50,149.42 353.00,150.08 354,152.5 C355.00,154.92 354.17,159.58 355,162 C355.83,164.42 358.33,164.08 359,167 C359.67,169.92 358.42,176.58 359,179.5 C359.58,182.42 360.67,183.25 362.5,184.5 C364.33,185.75 364.58,186.17 370,187 C375.42,187.83 386.67,188.83 395,189.5 C403.33,190.17 412.50,190.50 420,191 C427.50,191.50 434.58,191.92 440,192.5 C445.42,193.08 448.50,192.92 452.5,194.5 C456.50,196.08 460.67,198.67 464,202 C467.33,205.33 468.83,209.92 472.5,214.5 C476.17,219.08 484.08,226.17 486,229.5 C487.92,232.83 485.83,232.83 484,234.5 C482.17,236.17 478.58,238.25 475,239.5 C471.42,240.75 465.67,241.17 462.5,242 C459.33,242.83 456.83,243.25 456,244.5 C455.17,245.75 455.17,247.58 457.5,249.5 C459.83,251.42 466.92,253.92 470,256 C473.08,258.08 474.50,259.67 476,262 C477.50,264.33 478.75,267.67 479,270 C479.25,272.33 477.50,273.67 477.5,276 C477.50,278.33 477.75,282.17 479,284 C480.25,285.83 481.33,286.50 485,287 C488.67,287.50 497.17,287.67 501,287 C504.83,286.33 506.08,283.43 508,283 C509.92,282.57 508.00,284.07 512.5,284.4 C517.00,284.73 530.25,285.23 535,285 C539.75,284.77 538.92,283.00 541,283 C543.08,283.00 545.83,283.83 547.5,285 C549.17,286.17 550.17,288.17 551,290 C551.83,291.83 551.42,293.83 552.5,296 C553.58,298.17 556.25,300.67 557.5,303 C558.75,305.33 558.75,308.67 560,310 C561.25,311.33 563.33,311.00 565,311 C566.67,311.00 565.67,310.50 570,310 C574.33,309.50 586.83,308.17 591,308 C595.17,307.83 593.08,308.25 595,309 C596.92,309.75 599.58,311.33 602.5,312.5 C605.42,313.67 610.00,314.75 612.5,316 C615.00,317.25 616.25,318.67 617.5,320 C618.75,321.33 618.33,322.67 620,324 C621.67,325.33 625.83,326.83 627.5,328 C629.17,329.17 628.33,330.57 630,331 C631.67,331.43 634.83,330.87 637.5,330.6 C640.17,330.33 643.25,329.40 646,329.4 C648.75,329.40 651.67,330.08 654,330.6 C656.33,331.12 657.33,332.56 660,332.5 C662.67,332.44 666.25,329.38 670,330.25 C673.75,331.12 679.79,337.12 682.5,337.75 C685.21,338.38 685.42,335.46 686.25,334 C687.08,332.54 686.21,330.67 687.5,329 C688.79,327.33 691.50,326.83 694,324 C696.50,321.17 702.33,315.25 702.5,312 C702.67,308.75 695.42,308.50 695,304.5 C694.58,300.50 699.17,290.75 700,288"/>
<path d="M700,288 C697.92,287.62 690.00,287.17 687.5,285.75 C685.00,284.33 686.42,281.79 685,279.5 C683.58,277.21 680.25,274.50 679,272 C677.75,269.50 678.83,266.17 677.5,264.5 C676.17,262.83 672.08,263.08 671,262 C669.92,260.92 670.50,259.67 671,258 C671.50,256.33 673.75,254.67 674,252 C674.25,249.33 673.58,244.92 672.5,242 C671.42,239.08 668.58,237.83 667.5,234.5 C666.42,231.17 665.58,225.08 666,222 C666.42,218.92 668.08,217.50 670,216 C671.92,214.50 675.83,214.08 677.5,213 C679.17,211.92 680.25,211.75 680,209.5 C679.75,207.25 676.83,203.25 676,199.5 C675.17,195.75 675.83,190.75 675,187 C674.17,183.25 671.42,179.50 671,177 C670.58,174.50 670.83,174.50 672.5,172 C674.17,169.50 679.58,165.83 681,162 C682.42,158.17 679.50,152.00 681,149 C682.50,146.00 688.17,145.83 690,144 C691.83,142.17 690.33,138.50 692,138 C693.67,137.50 696.83,140.50 700,141 C703.17,141.50 707.00,141.83 711,141 C715.00,140.17 718.50,137.00 724,136 C729.50,135.00 740.33,136.00 744,135 C747.67,134.00 745.50,131.67 746,130 C746.50,128.33 743.00,125.75 747,125 C751.00,124.25 765.50,125.08 770,125.5 C774.50,125.92 769.17,127.75 774,127.5 C778.83,127.25 794.33,124.25 799,124 C803.67,123.75 800.67,126.00 802,126 C803.33,126.00 804.83,125.75 807,124 C809.17,122.25 812.83,117.17 815,115.5 C817.17,113.83 816.67,113.75 820,114 C823.33,114.25 830.50,117.50 835,117 C839.50,116.50 843.33,113.00 847,111 C850.67,109.00 854.17,106.08 857,105 C859.83,103.92 862.33,103.67 864,104.5 C865.67,105.33 864.33,108.58 867,110 C869.67,111.42 877.83,112.50 880,113"/>
<path d="M700,288 C702.67,287.83 706.42,285.50 716,287 C725.58,288.50 750.17,293.88 757.5,297 C764.83,300.12 758.75,302.83 760,305.75 C761.25,308.67 763.17,311.46 765,314.5 C766.83,317.54 769.75,322.42 771,324 C772.25,325.58 769.75,323.17 772.5,324 C775.25,324.83 783.75,326.50 787.5,329 C791.25,331.50 792.92,335.88 795,339 C797.08,342.12 800.00,345.67 800,347.75 C800.00,349.83 796.67,350.04 795,351.5 C793.33,352.96 791.25,356.08 790,356.5 C788.75,356.92 791.67,354.50 787.5,354 C783.33,353.50 769.17,353.08 765,353.5 C760.83,353.92 764.58,355.38 762.5,356.5 C760.42,357.62 756.25,357.96 752.5,360.25 C748.75,362.54 742.92,368.79 740,370.25 C737.08,371.71 737.50,369.00 735,369 C732.50,369.00 728.75,369.00 725,370.25 C721.25,371.50 716.67,374.83 712.5,376.5 C708.33,378.17 702.50,379.21 700,380.25 C697.50,381.29 697.71,381.92 697.5,382.75 C697.29,383.58 697.29,384.00 698.75,385.25 C700.21,386.50 705.42,388.79 706.25,390.25 C707.08,391.71 705.42,392.96 703.75,394 C702.08,395.04 697.92,395.25 696.25,396.5 C694.58,397.75 693.12,400.25 693.75,401.5 C694.38,402.75 698.96,402.75 700,404 C701.04,405.25 699.38,406.92 700,409 C700.62,411.08 701.46,415.04 703.75,416.5 C706.04,417.96 712.71,416.71 713.75,417.75 C714.79,418.79 712.71,420.25 710,422.75 C707.29,425.25 702.08,431.08 697.5,432.75 C692.92,434.42 686.25,432.33 682.5,432.75 C678.75,433.17 677.08,433.79 675,435.25 C672.92,436.71 670.62,438.79 670,441.5 C669.38,444.21 672.92,449.21 671.25,451.5 C669.58,453.79 663.12,454.83 660,455.25 C656.88,455.67 654.58,453.17 652.5,454 C650.42,454.83 649.58,458.79 647.5,460.25 C645.42,461.71 642.08,462.96 640,462.75 C637.92,462.54 636.67,459.83 635,459 C633.33,458.17 631.67,457.33 630,457.75 C628.33,458.17 627.50,459.62 625,461.5 C622.50,463.38 617.50,466.50 615,469 C612.50,471.50 610.00,473.67 610,476.5 C610.00,479.33 614.17,484.00 615,486 C615.83,488.00 616.46,487.46 615,488.5 C613.54,489.54 608.12,491.00 606.25,492.25 C604.38,493.50 603.12,494.88 603.75,496 C604.38,497.12 608.96,498.50 610,499"/>
<path d="M762,0 C764.50,1.50 772.33,7.17 777,9 C781.67,10.83 786.67,11.50 790,11 C793.33,10.50 795.00,7.00 797,6 C799.00,5.00 800.83,5.92 802,5 C803.17,4.08 803.67,1.25 804,0.5"/>
<path d="M804,0.5 C806.67,1.75 814.17,5.25 820,8 C825.83,10.75 833.83,15.33 839,17 C844.17,18.67 848.17,17.33 851,18 C853.83,18.67 854.50,19.33 856,21 C857.50,22.67 857.67,26.67 860,28 C862.33,29.33 866.67,28.75 870,29 C873.33,29.25 878.33,29.42 880,29.5"/>
<path d="M0,117 C0.20,116.98 0.30,117.02 1.2,116.9 C2.10,116.78 4.40,115.80 5.4,116.3 C6.40,116.80 5.88,118.80 7.2,119.9 C8.52,121.00 11.88,121.60 13.3,122.9 C14.72,124.20 14.90,126.30 15.7,127.7 C16.50,129.10 17.00,130.10 18.1,131.3 C19.20,132.50 22.10,133.58 22.3,134.9 C22.50,136.22 20.40,138.68 19.3,139.2 C18.20,139.72 16.92,138.62 15.7,138 C14.48,137.38 13.12,135.82 12,135.5 C10.88,135.18 9.60,135.38 9,136.1 C8.40,136.82 8.00,138.88 8.4,139.8 C8.80,140.72 11.20,141.10 11.4,141.6 C11.60,142.10 10.60,142.80 9.6,142.8 C8.60,142.80 6.40,141.10 5.4,141.6 C4.40,142.10 4.10,144.30 3.6,145.8 C3.10,147.30 2.80,149.60 2.4,150.6 C2.00,151.60 1.60,151.57 1.2,151.8 C0.80,152.03 0.20,151.97 0,152"/>
<path d="M0,157 C0.20,157.13 0.40,156.85 1.2,157.8 C2.00,158.75 3.40,160.98 4.8,162.7 C6.20,164.42 9.10,166.50 9.6,168.1 C10.10,169.70 7.80,170.80 7.8,172.3 C7.80,173.80 9.30,174.38 9.6,177.1 C9.90,179.82 11.00,186.58 9.6,188.6 C8.20,190.62 2.80,189.10 1.2,189.2 C-0.40,189.30 0.20,189.20 0,189.2"/>
</g>
<g fill="none" stroke="#000" stroke-width="2.1" stroke-linejoin="round" stroke-linecap="round" shape-rendering="auto">
<path d="M650.6,531.9 C651.75,531.92 654.27,531.90 657.5,532 C660.73,532.10 667.08,531.83 670,532.5 C672.92,533.17 674.00,534.08 675,536 C676.00,537.92 675.17,542.08 676,544 C676.83,545.92 677.50,546.67 680,547.5 C682.50,548.33 688.60,548.42 691,549 C693.40,549.58 694.40,550.00 694.4,551 C694.40,552.00 690.90,553.50 691,555 C691.10,556.50 693.67,558.33 695,560 C696.33,561.67 697.75,562.33 699,565 C700.25,567.67 701.33,573.67 702.5,576 C703.67,578.33 704.33,578.67 706,579 C707.67,579.33 711.42,578.83 712.5,578 C713.58,577.17 712.75,576.00 712.5,574 C712.25,572.00 710.75,568.75 711,566 C711.25,563.25 712.67,560.17 714,557.5 C715.33,554.83 718.00,551.67 719,550 C720.00,548.33 718.33,549.58 720,547.5 C721.67,545.42 726.50,540.04 729,537.5 C731.50,534.96 733.17,533.75 735,532.25 C736.83,530.75 737.08,530.17 740,528.5 C742.92,526.83 750.21,524.12 752.5,522.25 C754.79,520.38 752.50,519.12 753.75,517.25 C755.00,515.38 757.29,512.67 760,511 C762.71,509.33 765.83,508.29 770,507.25 C774.17,506.21 780.42,505.17 785,504.75 C789.58,504.33 793.33,504.54 797.5,504.75 C801.67,504.96 805.83,507.46 810,506 C814.17,504.54 818.75,498.08 822.5,496 C826.25,493.92 830.00,493.92 832.5,493.5 C835.00,493.08 835.42,494.00 837.5,493.5 C839.58,493.00 841.67,490.08 845,490.5 C848.33,490.92 853.33,494.04 857.5,496 C861.67,497.96 865.92,501.08 870,502.25 C874.08,503.42 880.00,502.88 882,503"/>
<path d="M650.6,531.9 C652.00,533.08 657.43,536.98 659,539 C660.57,541.02 660.25,542.50 660,544 C659.75,545.50 658.75,546.67 657.5,548 C656.25,549.33 653.42,550.67 652.5,552 C651.58,553.33 651.17,554.67 652,556 C652.83,557.33 654.92,558.50 657.5,560 C660.08,561.50 664.75,563.17 667.5,565 C670.25,566.83 672.25,568.92 674,571 C675.75,573.08 677.17,575.17 678,577.5 C678.83,579.83 679.00,582.75 679,585 C679.00,587.25 677.67,588.67 678,591 C678.33,593.33 678.79,596.50 681,599 C683.21,601.50 688.92,603.17 691.25,606 C693.58,608.83 691.04,612.67 695,616 C698.96,619.33 707.92,622.67 715,626 C722.08,629.33 732.50,634.12 737.5,636 C742.50,637.88 742.50,636.62 745,637.25 C747.50,637.88 751.04,637.96 752.5,639.75 C753.96,641.54 753.54,646.62 753.75,648"/>
<path d="M882,635.5 C881.53,635.67 879.98,635.53 879.2,636.5 C878.42,637.47 877.83,639.38 877.3,641.3 C876.77,643.22 876.22,646.88 876,648"/>
</g>
<g shape-rendering="auto">
<circle cx="313.6" cy="161.7" r="4.5" fill="#fff"/><circle cx="313.6" cy="161.7" r="2.9" fill="#000"/>
<circle cx="221" cy="246.2" r="4.5" fill="#fff"/><circle cx="221" cy="246.2" r="2.9" fill="#000"/>
<circle cx="189.5" cy="322.2" r="4.5" fill="#fff"/><circle cx="189.5" cy="322.2" r="2.9" fill="#000"/>
<circle cx="373" cy="322.7" r="4.5" fill="#fff"/><circle cx="373" cy="322.7" r="2.9" fill="#000"/>
<circle cx="449.5" cy="322.7" r="4.5" fill="#fff"/><circle cx="449.5" cy="322.7" r="2.9" fill="#000"/>
<circle cx="520" cy="341.7" r="4.5" fill="#fff"/><circle cx="520" cy="341.7" r="2.9" fill="#000"/>
<circle cx="649.5" cy="353.2" r="4.5" fill="#fff"/><circle cx="649.5" cy="353.2" r="2.9" fill="#000"/>
<circle cx="462.5" cy="426.7" r="4.5" fill="#fff"/><circle cx="462.5" cy="426.7" r="2.9" fill="#000"/>
<circle cx="284.5" cy="439.2" r="4.5" fill="#fff"/><circle cx="284.5" cy="439.2" r="2.9" fill="#000"/>
<circle cx="213" cy="451.7" r="4.5" fill="#fff"/><circle cx="213" cy="451.7" r="2.9" fill="#000"/>
<circle cx="412.5" cy="518.2" r="4.5" fill="#fff"/><circle cx="412.5" cy="518.2" r="2.9" fill="#000"/>
</g>
<g font-family="DejaVu Sans, sans-serif" font-size="14" fill="#111" text-anchor="middle" shape-rendering="auto">
<text x="379" y="80.1">4</text>
<text x="562" y="105.1">3</text>
<text x="37" y="200.1">4</text>
<text x="762" y="275.1">4</text>
<text x="441" y="301.1">3</text>
<text x="189.4" y="326.1">3</text>
<text x="804" y="565.1">4</text>
<text x="252" y="641.1">3</text>
<text x="525" y="647.1">3</text>
</g>
<g font-family="DejaVu Sans, sans-serif" font-size="14" shape-rendering="auto">
<text x="326.2" y="164.5" fill="none" stroke="#fff" stroke-width="3.4" stroke-linejoin="round">Nordhausen</text>
<text x="326.2" y="164.5" fill="#1a1a1a">Nordhausen</text>
<text x="233.2" y="249.0" fill="none" stroke="#fff" stroke-width="3.4" stroke-linejoin="round">Mühlhausen</text>
<text x="233.2" y="249.0" fill="#1a1a1a">Mühlhausen</text>
<text x="201.7" y="325.0" fill="none" stroke="#fff" stroke-width="3.4" stroke-linejoin="round">Eisenach</text>
<text x="201.7" y="325.0" fill="#1a1a1a">Eisenach</text>
<text x="385.7" y="325.5" fill="none" stroke="#fff" stroke-width="3.4" stroke-linejoin="round">Erfurt</text>
<text x="385.7" y="325.5" fill="#1a1a1a">Erfurt</text>
<text x="461.7" y="325.5" fill="none" stroke="#fff" stroke-width="3.4" stroke-linejoin="round">Weimar</text>
<text x="461.7" y="325.5" fill="#1a1a1a">Weimar</text>
<text x="532.7" y="344.5" fill="none" stroke="#fff" stroke-width="3.4" stroke-linejoin="round">Jena</text>
<text x="532.7" y="344.5" fill="#1a1a1a">Jena</text>
<text x="661.7" y="356.0" fill="none" stroke="#fff" stroke-width="3.4" stroke-linejoin="round">Gera</text>
<text x="661.7" y="356.0" fill="#1a1a1a">Gera</text>
<text x="474.7" y="429.5" fill="none" stroke="#fff" stroke-width="3.4" stroke-linejoin="round">Saalfeld</text>
<text x="474.7" y="429.5" fill="#1a1a1a">Saalfeld</text>
<text x="296.7" y="442.0" fill="none" stroke="#fff" stroke-width="3.4" stroke-linejoin="round">Suhl</text>
<text x="296.7" y="442.0" fill="#1a1a1a">Suhl</text>
<text x="225.7" y="454.5" fill="none" stroke="#fff" stroke-width="3.4" stroke-linejoin="round">Meiningen</text>
<text x="225.7" y="454.5" fill="#1a1a1a">Meiningen</text>
<text x="424.7" y="521.0" fill="none" stroke="#fff" stroke-width="3.4" stroke-linejoin="round">Sonneberg</text>
<text x="424.7" y="521.0" fill="#1a1a1a">Sonneberg</text>
</g>
<g shape-rendering="crispEdges" fill="#000"><rect x="0" y="0" width="880" height="1"/><rect x="0" y="0" width="1" height="648"/><rect x="0" y="647" width="880" height="1"/><rect x="879" y="0" width="1" height="647" opacity="0.12"/></g>
</svg><svg id="cb" width="880" height="80" viewBox="0 750 880 80" style="position:absolute;left:0;top:750px">
<rect x="125" y="758" width="21" height="31" fill="#300078" shape-rendering="crispEdges"/>
<rect x="146" y="758" width="21" height="31" fill="#003a80" shape-rendering="crispEdges"/>
<rect x="167" y="758" width="21" height="31" fill="#004580" shape-rendering="crispEdges"/>
<rect x="188" y="758" width="21" height="31" fill="#0060b0" shape-rendering="crispEdges"/>
<rect x="209" y="758" width="21" height="31" fill="#0084f0" shape-rendering="crispEdges"/>
<rect x="230" y="758" width="21" height="31" fill="#2494ff" shape-rendering="crispEdges"/>
<rect x="251" y="758" width="21" height="31" fill="#70bbff" shape-rendering="crispEdges"/>
<rect x="272" y="758" width="21" height="31" fill="#86c4ff" shape-rendering="crispEdges"/>
<rect x="293" y="758" width="21" height="31" fill="#a8d6ff" shape-rendering="crispEdges"/>
<rect x="314" y="758" width="21" height="31" fill="#c8e4ff" shape-rendering="crispEdges"/>
<rect x="335" y="758" width="21" height="31" fill="#daeaff" shape-rendering="crispEdges"/>
<rect x="356" y="758" width="21" height="31" fill="#98e0c0" shape-rendering="crispEdges"/>
<rect x="377" y="758" width="21" height="31" fill="#66b08a" shape-rendering="crispEdges"/>
<rect x="398" y="758" width="21" height="31" fill="#08a030" shape-rendering="crispEdges"/>
<rect x="419" y="758" width="21" height="31" fill="#22be14" shape-rendering="crispEdges"/>
<rect x="440" y="758" width="21" height="31" fill="#a0e000" shape-rendering="crispEdges"/>
<rect x="461" y="758" width="21" height="31" fill="#d0f000" shape-rendering="crispEdges"/>
<rect x="482" y="758" width="21" height="31" fill="#f4fa00" shape-rendering="crispEdges"/>
<rect x="503" y="758" width="21" height="31" fill="#f5dc10" shape-rendering="crispEdges"/>
<rect x="524" y="758" width="21" height="31" fill="#f5c010" shape-rendering="crispEdges"/>
<rect x="545" y="758" width="21" height="31" fill="#f58c10" shape-rendering="crispEdges"/>
<rect x="566" y="758" width="21" height="31" fill="#f57010" shape-rendering="crispEdges"/>
<rect x="587" y="758" width="21" height="31" fill="#e83c10" shape-rendering="crispEdges"/>
<rect x="608" y="758" width="21" height="31" fill="#b81818" shape-rendering="crispEdges"/>
<rect x="629" y="758" width="21" height="31" fill="#a81020" shape-rendering="crispEdges"/>
<rect x="650" y="758" width="21" height="31" fill="#780000" shape-rendering="crispEdges"/>
<rect x="671" y="758" width="21" height="31" fill="#883030" shape-rendering="crispEdges"/>
<rect x="692" y="758" width="21" height="31" fill="#c87878" shape-rendering="crispEdges"/>
<rect x="713" y="758" width="21" height="31" fill="#ffb4b4" shape-rendering="crispEdges"/>
<rect x="734" y="758" width="21" height="31" fill="#ffdcdc" shape-rendering="crispEdges"/>
<rect x="125.5" y="757.5" width="630" height="32" fill="none" stroke="#000" stroke-width="1"/>
<line x1="125.5" y1="789.0" x2="125.5" y2="794.5" stroke="#000" stroke-width="1"/>
<text x="124.7" y="809" text-anchor="middle" font-family="DejaVu Sans, sans-serif" font-size="13">-20</text>
<line x1="167.5" y1="789.0" x2="167.5" y2="794.5" stroke="#000" stroke-width="1"/>
<text x="166.7" y="809" text-anchor="middle" font-family="DejaVu Sans, sans-serif" font-size="13">-16</text>
<line x1="209.5" y1="789.0" x2="209.5" y2="794.5" stroke="#000" stroke-width="1"/>
<text x="208.7" y="809" text-anchor="middle" font-family="DejaVu Sans, sans-serif" font-size="13">-12</text>
<line x1="251.5" y1="789.0" x2="251.5" y2="794.5" stroke="#000" stroke-width="1"/>
<text x="250.7" y="809" text-anchor="middle" font-family="DejaVu Sans, sans-serif" font-size="13">-8</text>
<line x1="293.5" y1="789.0" x2="293.5" y2="794.5" stroke="#000" stroke-width="1"/>
<text x="292.7" y="809" text-anchor="middle" font-family="DejaVu Sans, sans-serif" font-size="13">-4</text>
<line x1="335.5" y1="789.0" x2="335.5" y2="794.5" stroke="#000" stroke-width="1"/>
<text x="334.7" y="809" text-anchor="middle" font-family="DejaVu Sans, sans-serif" font-size="13">0</text>
<line x1="377.5" y1="789.0" x2="377.5" y2="794.5" stroke="#000" stroke-width="1"/>
<text x="376.7" y="809" text-anchor="middle" font-family="DejaVu Sans, sans-serif" font-size="13">4</text>
<line x1="419.5" y1="789.0" x2="419.5" y2="794.5" stroke="#000" stroke-width="1"/>
<text x="418.7" y="809" text-anchor="middle" font-family="DejaVu Sans, sans-serif" font-size="13">8</text>
<line x1="461.5" y1="789.0" x2="461.5" y2="794.5" stroke="#000" stroke-width="1"/>
<text x="460.7" y="809" text-anchor="middle" font-family="DejaVu Sans, sans-serif" font-size="13">12</text>
<line x1="503.5" y1="789.0" x2="503.5" y2="794.5" stroke="#000" stroke-width="1"/>
<text x="502.7" y="809" text-anchor="middle" font-family="DejaVu Sans, sans-serif" font-size="13">16</text>
<line x1="545.5" y1="789.0" x2="545.5" y2="794.5" stroke="#000" stroke-width="1"/>
<text x="544.7" y="809" text-anchor="middle" font-family="DejaVu Sans, sans-serif" font-size="13">20</text>
<line x1="587.5" y1="789.0" x2="587.5" y2="794.5" stroke="#000" stroke-width="1"/>
<text x="586.7" y="809" text-anchor="middle" font-family="DejaVu Sans, sans-serif" font-size="13">24</text>
<line x1="629.5" y1="789.0" x2="629.5" y2="794.5" stroke="#000" stroke-width="1"/>
<text x="628.7" y="809" text-anchor="middle" font-family="DejaVu Sans, sans-serif" font-size="13">28</text>
<line x1="671.5" y1="789.0" x2="671.5" y2="794.5" stroke="#000" stroke-width="1"/>
<text x="670.7" y="809" text-anchor="middle" font-family="DejaVu Sans, sans-serif" font-size="13">32</text>
<line x1="713.5" y1="789.0" x2="713.5" y2="794.5" stroke="#000" stroke-width="1"/>
<text x="712.7" y="809" text-anchor="middle" font-family="DejaVu Sans, sans-serif" font-size="13">36</text>
<line x1="755.5" y1="789.0" x2="755.5" y2="794.5" stroke="#000" stroke-width="1"/>
<text x="754.7" y="809" text-anchor="middle" font-family="DejaVu Sans, sans-serif" font-size="13">40</text>
</svg><div class="t" id="title">Temperatur in 2m (in °C)</div>
<div class="t" id="sub">Modell: ICON-D2 03z, Deutscher Wetterdienst</div>
<div class="t" id="date">Mo, 16.03.2026 05:00 Uhr</div>
<div class="t" id="url">www.wetterblick.com</div>
</body></html>
